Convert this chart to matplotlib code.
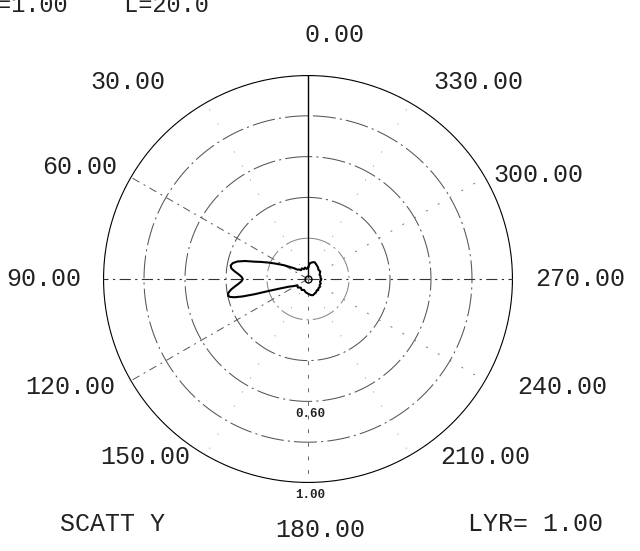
import numpy as np
import matplotlib
matplotlib.use("Agg")
import matplotlib.pyplot as plt

# Scattering pattern (angle in degrees, normalised amplitude)
theta_deg = [0, 8, 15, 22, 30, 38, 44, 48, 52, 56, 60, 64, 67, 70, 72, 74, 76,
             78, 80, 82, 84, 86, 88, 90, 92, 94, 96, 98, 100, 102, 103, 104,
             105, 106, 107, 109, 112, 116, 121, 130, 140, 150, 160, 170, 180,
             190, 197, 205, 212, 218, 222, 228, 235, 243, 250, 257, 264, 270,
             276, 283, 290, 297, 305, 312, 318, 325, 332, 338, 342, 347, 353,
             360]
amplitude = [0.055, 0.050, 0.058, 0.052, 0.060, 0.055, 0.065, 0.068, 0.085,
             0.105, 0.135, 0.170, 0.205, 0.245, 0.275, 0.320, 0.355, 0.375,
             0.383, 0.378, 0.360, 0.340, 0.325, 0.318, 0.325, 0.340, 0.360,
             0.380, 0.395, 0.398, 0.390, 0.370, 0.330, 0.270, 0.200, 0.140,
             0.100, 0.080, 0.060, 0.065, 0.055, 0.062, 0.057, 0.066, 0.072,
             0.080, 0.083, 0.078, 0.075, 0.070, 0.074, 0.068, 0.070, 0.064,
             0.066, 0.060, 0.063, 0.065, 0.061, 0.063, 0.060, 0.066, 0.070,
             0.068, 0.074, 0.078, 0.083, 0.088, 0.087, 0.083, 0.078, 0.055]

ring_levels = [0.2, 0.4, 0.6, 0.8]
ring_labels = {0.6: "0.60", 1.0: "1.00"}
angle_labels = ["0.00", "30.00", "60.00", "90.00", "120.00", "150.00",
                "180.00", "210.00", "240.00", "270.00", "300.00", "330.00"]
header_text = "=1.00    L=20.0"
footer_left = "SCATT Y"
footer_right = "LYR= 1.00"

W, H = 640, 551
fig = plt.figure(figsize=(W / 100, H / 100), dpi=100)
fig.patch.set_facecolor("white")

cx, cy, rx, ry = 308, 279, 205, 204
ax = fig.add_axes([(cx - rx) / W, 1 - (cy + ry) / H, 2 * rx / W, 2 * ry / H],
                  projection="polar")
ax.set_theta_zero_location("N")
ax.set_theta_direction(1)
ax.set_ylim(0, 1)
ax.set_aspect("auto")
ax.grid(False)
ax.set_xticks([])
ax.set_yticks([])
ax.spines["polar"].set_visible(False)

full = np.linspace(0, 2 * np.pi, 721)
# outer boundary
ax.plot(full, np.ones_like(full), color="black", lw=1.6)
# inner rings
ring_colors = {0.2: "#888888", 0.4: "#555555", 0.6: "#555555", 0.8: "#555555"}
for r in ring_levels:
    ax.plot(full, np.full_like(full, r), color=ring_colors[r], lw=0.75,
            ls=(0, (22, 4, 2, 4)))

# spokes
ax.plot([0, 0], [0, 1], color="black", lw=1.0)
ax.plot([np.pi, np.pi], [0, 1], color="#666666", lw=0.7, ls=(0, (4, 10)))
for a in (90, 270):
    ax.plot([np.radians(a)] * 2, [0, 1], color="#333333", lw=0.8,
            ls=(0, (10, 4, 2, 4)))
for a in (60, 120):
    ax.plot([np.radians(a)] * 2, [0, 1], color="#555555", lw=0.7,
            ls=(0, (8, 5, 2, 5)))
for a in (240, 300):
    ax.plot([np.radians(a)] * 2, [0, 1], color="#777777", lw=0.7,
            ls=(0, (2, 12)))
for a in (30, 150, 210, 330):
    ax.plot([np.radians(a)] * 2, [0, 1], color="#999999", lw=0.6,
            ls=(0, (1.5, 18)))

# pattern
ax.plot(np.radians(theta_deg), amplitude, color="black", lw=1.5)
ax.plot([0], [0], marker="o", ms=5, mfc="none", mec="black", mew=1.0)

font = ["Liberation Mono", "DejaVu Sans Mono"]


def px(x, y):
    return x / W, 1 - y / H


label_pos = {
    "0.00": (335, 35), "30.00": (128, 82), "60.00": (80, 167),
    "90.00": (44, 279), "120.00": (70, 387), "150.00": (145, 457),
    "180.00": (320, 530), "210.00": (485, 457), "240.00": (562, 387),
    "270.00": (580, 279), "300.00": (538, 175), "330.00": (478, 82),
}
for lab in angle_labels:
    x, y = label_pos[lab]
    fig.text(*px(x, y), lab, ha="center", va="center", fontsize=18,
             family=font, color="#222222")

fig.text(*px(310, 414), ring_labels[0.6], ha="center", va="center",
         fontsize=9, family=font, weight="bold", color="#222222")
fig.text(*px(310, 495), ring_labels[1.0], ha="center", va="center",
         fontsize=9, family=font, weight="bold", color="#222222")

fig.text(*px(-3, 12), header_text, ha="left", va="baseline", fontsize=17,
         family=font, color="#222222")
fig.text(*px(112, 524), footer_left, ha="center", va="center", fontsize=18,
         family=font, color="#222222")
fig.text(*px(535, 524), footer_right, ha="center", va="center", fontsize=18,
         family=font, color="#222222")

fig.savefig("out.png", dpi=100, facecolor="white")
